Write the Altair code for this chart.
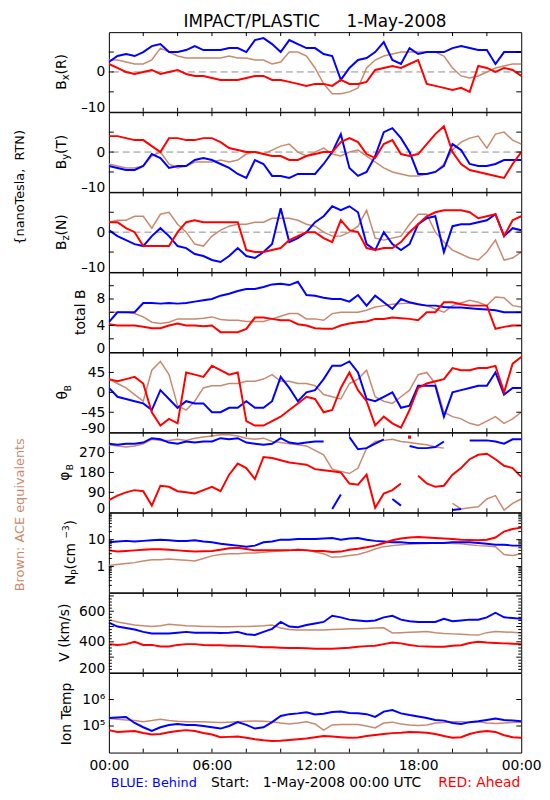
import altair as alt
import pandas as pd

# ---------------- data (30-minute samples) ----------------
HOURS = [i * 0.5 for i in range(49)]
X_TICKS = [2, 4, 6, 8, 10, 12, 14, 16, 18, 20, 22]
X_LABELS = [0, 6, 12, 18, 24]

BX_BLUE = [2.5, 4, 4.5, 4, 5, 6.5, 7, 5, 5, 5.5,
           6.5, 5.5, 5.5, 5.5, 6, 6, 5, 8, 8.5, 7,
           5, 8, 7, 6, 6, 4.5, 4, -2, 1, 3,
           3.5, 5, 7.5, 3, 2, 6, 4.5, 5, 5, 5,
           6, 6.5, 6, 5.5, 5.5, 2, 5, 5, 5]
BX_RED = [2, 1, 0, -0.5, 0, 0.5, -0.5, 0, 0.5, -0.5,
          -1, -1, -1.5, -2, -2, -2, -1.5, -1, -1, -2,
          -2, -2.5, -3, -3.5, -3, -3, -3.5, -2, -3, -3,
          -2.5, 0.5, 1, 1.5, 1, 2, 3, -3, -3.5, -4,
          -4.5, -4, -5, 1.5, 1, 0, 1, 0.5, -1]
BX_BROWN = [3, 3, 2.5, 2, 2, 3, 6, 5, 4, 3.5,
            3.5, 3.5, 3.5, 3.5, 4, 3.5, 3.5, 3, 3, 2,
            2.5, 5, 5, 4, 1, -3, -5.5, -5.5, -5, -4,
            1, 3, 4, 4.5, 5, 5, 5, 5, 5, 4,
            1, -1, -1.5, -1, 0, 1, 1.5, 2, 2]

BY_BLUE = [-3.5, -4, -4.5, -4.5, -3.5, -0.5, -1.5, -4, -3.5, -3.5,
           -2, -1.5, -2, -3, -4, -5.5, -6.5, -2, -3, -6,
           -6, -6.5, -5.5, -5.5, -5.5, -3, 0, 4.5, -4, -6,
           -5, -1, 5, 6, 3.5, 0, -5.5, -5.5, -5, -3.5,
           2, 0.5, -3, -3.5, -3.5, -3, -2, -2, -2]
BY_RED = [4, 4, 3.5, 3, 3, 1.5, 0, 3.5, 3.5, 3,
          3, 3.5, 3.5, 2.5, 1, 0.5, 0, 0, -0.5, -1,
          -1, -2, -2, -1, -0.5, 0, 0, 2.5, 3.5, 2.5,
          -0.5, -1.5, 2, 3, -0.5, -1, -0.5, 2, 4.5, 6.5,
          0, -3, -4.5, -5, -5.5, -6, -6.5, -3, 0]
BY_BROWN = [-3, -3.5, -4, -4, -3.5, -1, 0, -3, -4, -3.5,
            -2.5, -2.5, -2.5, -2, -2.5, -2, -0.5, 0, -0.5, 0.5,
            1.5, 2, 0, -1, 0, 1, -0.5, -1, 0, 0.5,
            -1, -2.5, -4, -5, -5.5, -6, -6, -5.5, -5, -3,
            0.5, 2.5, 3.5, 4, 1, 4.5, 5, 3, 2]

BZ_BLUE = [0.5, -1, -2, -3, -3.5, -1, 1, -1, -3.5, -4,
           -5.5, -6, -7, -7.5, -6, -4, -6, -6.5, -5, -3,
           6, -2.5, -1.5, 0, 2.5, 4, 6.5, 5.5, 6.5, 5,
           -3, -4.5, 0, -3, -4.5, -3, 2, 3.5, 4, -5,
           1.5, 2, 2, 2.5, 3, 4.5, -1, 1, 0.5]
BZ_RED = [2.5, 2.5, 1, 0, -3.5, -3.5, -3.5, -3.5, 0, 2.5,
          3, 2.5, 2.5, 2.5, 2.5, 2.5, -4.5, -5, -5, -4.5,
          -4, -2, -1, 0, 0, -1.5, -2.5, 3, 0.5, 0,
          -4, -4.5, -4, -4, -2.5, 0, 2, 4, 5, 5.5,
          5.5, 5.5, 5, 3.5, 4, 4.5, -1, 3, 4]
BZ_BROWN = [2.5, 3, 3, 4, 4, 1, 4.5, 5, 2, 0,
            -3, -3.5, -1, 0.5, 1.5, 2, 2, 2.5, 2.5, 3.5,
            3.5, 3.5, 3, 2, 1.5, 0, -1, -1, 0, 1.5,
            5.5, -1.5, -2, -1.5, -1, 2, 4.5, 4.5, 0, -2.5,
            -4.5, -5.5, -6.5, -7, -5, -2, -7, -6.5, -5]

B_BLUE = [4.5, 6, 6, 6, 7.4, 7.4, 7.3, 7.4, 7.3, 7.4,
          7.6, 7.8, 8, 8.5, 8.8, 9.2, 9.5, 9.5, 9.8, 10.2,
          10.3, 10.1, 10.6, 8.6, 8.5, 8.2, 8, 8, 7.6, 8.6,
          7, 8.5, 7.5, 6.5, 8, 7.5, 7.2, 7, 7, 6.8,
          6.7, 6.7, 6.6, 6.5, 6.4, 6.3, 6, 6, 6]
B_RED = [4.2, 4, 4, 4, 3.8, 3.6, 3.6, 4, 4.3, 4,
         4, 3.9, 4, 3, 3, 3, 3.5, 5.2, 5.2, 5,
         4.8, 4.8, 4.2, 4, 3.6, 3.5, 3.5, 4, 4.3, 4.5,
         4.6, 5, 5, 5.2, 5.1, 5, 4.8, 6, 6, 7.5,
         7.5, 7.2, 7, 7, 7, 3.5, 3.8, 4, 4]
B_BROWN = [6, 6, 6, 5.8, 5.3, 4.5, 4.3, 4.5, 5, 5,
           5, 5.1, 5.3, 4.9, 4.8, 4.8, 4.6, 4.6, 4.6, 5,
           5.4, 5.8, 5.8, 5, 5, 4.8, 5.8, 6, 6, 6,
           6.3, 6.8, 7, 7.2, 7.3, 7.4, 7.2, 7, 6.5, 6,
           7, 7.4, 7.8, 7.5, 7, 8.3, 8.2, 7, 6.8]

TH_BLUE = [10, -10, -15, -20, -25, -40, 5, -15, -35, -20,
           -25, -25, -45, -45, -35, -35, -20, -35, -35, -20,
           35, 10, -20, 0, 5, 30, 60, 60, 70, 45,
           -15, -20, -10, 0, -35, -30, 15, 15, 15, -55,
           0, 5, 10, 15, 15, 45, -5, 10, 10]
TH_RED = [30, 25, 30, 35, 20, -45, -75, -60, -70, 45,
          40, 35, 60, 50, 40, 45, -65, -75, -75, -65,
          -55, -40, -25, -10, -15, -45, -40, 10, 45, 5,
          -20, -75, -55, -70, -80, -40, 10, 20, 25, 30,
          55, 50, 50, 55, 55, 60, 0, 65, 80]
TH_BROWN = [30, 20, 10, -5, -20, 50, 70, 40, -30, -40,
            -20, 10, 15, 15, 20, 20, 25, 25, 30, 40,
            25, 25, 20, 20, 15, -5, -10, -15, 20, 30,
            50, -10, -20, -25, -10, 5, 40, 45, 20, -45,
            -55, -60, -70, -75, -65, -55, -70, -60, -45]

PH_BLUE = [310, 305, 310, 310, 315, 335, 330, 315, 310, 320,
           315, 320, 320, 335, 330, 335, 315, 310, 305, 310,
           335, 315, 310, 315, 320, 320, 15, 80, 340, 285,
           290, 310, 330, 60, 30, 300, 290, 290, 295, 320,
           10, 15, 325, 325, 325, 320, 310, 330, 330]
PH_RED = [55, 75, 90, 100, 95, 30, 120, 115, 95, 90,
          85, 100, 115, 95, 170, 220, 200, 150, 250, 245,
          235, 225, 220, 215, 195, 190, 185, 180, 130, 125,
          170, 20, 85, 100, 130, 340, 165, 130, 115, 120,
          170, 200, 240, 260, 265, 240, 210, 200, 160]
PH_BROWN = [305, 300, 295, 300, 310, 330, 325, 325, 330, 325,
            335, 340, 345, 350, 350, 345, 335, 330, 335, 320,
            315, 310, 305, 300, 280, 260, 195, 185, 175, 200,
            290, 320, 325, 330, 320, 315, 310, 305, 295, 290,
            40, 15, 20, 25, 60, 75, 10, 40, 60]
# indices where the azimuth wraps round (0 <-> 360) or jumps away: the trace is broken there
PH_BLUE_BREAKS = [26, 28, 33, 35, 40, 42]
PH_RED_BREAKS = [35, 36]
PH_BROWN_BREAKS = [40]

NP_BLUE = [8, 8.5, 9, 8.5, 9, 9.5, 10, 9.5, 9, 9,
           9.5, 8.5, 8, 7, 6.5, 6, 5.5, 6, 8, 8.5,
           10, 10, 10.5, 10.5, 10.5, 11, 11.5, 10, 11, 11.5,
           10, 9, 8.5, 8, 8, 7.5, 7.5, 7.5, 7.5, 7.5,
           8, 8, 8, 7.5, 7, 6.5, 6.5, 6, 6]
NP_RED = [4, 3.6, 3.8, 4, 4.2, 4.4, 4.4, 4.2, 4, 3.8,
          3.6, 3.7, 3.8, 4.2, 4.8, 5, 4.5, 4, 4, 4,
          4, 4, 4.2, 4, 3.8, 3.8, 3.5, 3.6, 4.2, 4.6,
          5.2, 6, 7.5, 9.5, 11, 12, 12.5, 12, 11.5, 11,
          10.5, 10, 9.8, 9.5, 10, 12, 20, 25, 28]
NP_BROWN = [1.1, 1.2, 1.3, 1.4, 1.6, 1.8, 1.8, 1.9, 1.8, 1.7,
            1.6, 2, 2.5, 2.8, 3, 3, 3.2, 3.2, 3.4, 3.6,
            3.8, 4, 4.3, 4.2, 3.5, 3, 2.2, 2.3, 2.6, 2.8,
            3.5, 4.5, 5.5, 6, 6.5, 6.8, 7, 7.2, 7.5, 7.5,
            7.2, 7, 6.5, 6, 5.8, 5.5, 2.8, 2.6, 3]

V_BLUE = [525, 500, 490, 480, 465, 455, 455, 455, 460, 465,
          460, 460, 460, 458, 460, 465, 450, 445, 465, 485,
          530, 500, 495, 510, 520, 530, 570, 560, 545, 540,
          535, 540, 560, 570, 545, 535, 530, 530, 530, 550,
          535, 540, 545, 545, 560, 590, 560, 555, 550]
V_RED = [385, 380, 385, 400, 380, 380, 370, 370, 380, 385,
         385, 380, 378, 378, 375, 375, 372, 370, 365, 365,
         362, 360, 360, 358, 355, 355, 355, 358, 362, 368,
         372, 375, 385, 395, 390, 380, 372, 370, 368, 368,
         375, 378, 392, 400, 395, 392, 390, 388, 385]
V_BROWN = [545, 530, 520, 510, 505, 500, 505, 515, 510, 505,
           503, 500, 500, 498, 498, 500, 500, 502, 505, 510,
           490, 480, 478, 478, 478, 478, 480, 482, 485, 485,
           487, 490, 492, 458, 460, 462, 465, 468, 460, 455,
           452, 450, 446, 444, 460, 468, 465, 462, 458]

T_BLUE = [2.0e5, 2.1e5, 2.2e5, 1.3e5, 0.9e5, 0.65e5, 0.9e5, 1.1e5, 1.2e5, 1.1e5,
          1.1e5, 1.0e5, 0.9e5, 0.8e5, 1.0e5, 1.4e5, 1.1e5, 0.8e5, 0.9e5, 1.4e5,
          2.4e5, 2.8e5, 3.0e5, 3.3e5, 2.7e5, 2.9e5, 3.4e5, 3.5e5, 3.1e5, 3.0e5,
          2.8e5, 2.2e5, 3.5e5, 4.0e5, 3.0e5, 2.6e5, 2.3e5, 2.0e5, 1.7e5, 1.6e5,
          1.3e5, 1.2e5, 1.4e5, 1.5e5, 1.7e5, 1.9e5, 1.7e5, 1.6e5, 1.5e5]
T_RED = [7.0e4, 6.0e4, 6.2e4, 6.5e4, 5.5e4, 4.8e4, 5.0e4, 5.8e4, 6.5e4, 7.0e4,
         6.5e4, 5.5e4, 4.8e4, 3.8e4, 3.9e4, 4.0e4, 3.6e4, 3.2e4, 2.9e4, 2.7e4,
         2.8e4, 3.0e4, 3.2e4, 3.4e4, 3.8e4, 4.2e4, 4.0e4, 3.8e4, 3.6e4, 3.7e4,
         4.2e4, 4.6e4, 5.0e4, 5.4e4, 5.6e4, 6.0e4, 5.8e4, 5.6e4, 5.0e4, 4.2e4,
         3.6e4, 3.8e4, 5.0e4, 6.0e4, 6.5e4, 6.0e4, 4.5e4, 3.8e4, 3.6e4]
T_BROWN = [1.9e5, 1.8e5, 1.7e5, 1.6e5, 1.45e5, 1.6e5, 1.8e5, 1.6e5, 1.5e5, 1.45e5,
           1.45e5, 1.45e5, 1.4e5, 1.35e5, 1.4e5, 1.45e5, 1.5e5, 1.55e5, 1.5e5, 1.45e5,
           1.3e5, 1.2e5, 1.3e5, 1.45e5, 1.2e5, 0.7e5, 1.1e5, 1.15e5, 1.15e5, 1.15e5,
           1.0e5, 0.85e5, 1.3e5, 1.4e5, 1.2e5, 1.1e5, 1.05e5, 1.1e5, 1.3e5, 1.35e5,
           1.45e5, 1.45e5, 1.4e5, 1.45e5, 1.3e5, 1.25e5, 1.3e5, 1.35e5, 1.4e5]

# ---------------- styling ----------------
FONT = "DejaVu Sans"
BLUE = "#0000ff"
RED = "#ff0000"
BROWN = "#c88a6e"
L = 110          # page x of the plot's left edge (used for left-side text offsets)
W = 417
H = 80.5

EM = {" ": 0.318, "\u00a0": 0.318, "(": 0.390, ")": 0.390, "/": 0.337, "-": 0.361,
      "\u2212": 0.838, "3": 0.636, "B": 0.686, "I": 0.295, "N": 0.748, "P": 0.603,
      "R": 0.695, "T": 0.611, "V": 0.684, "a": 0.613, "c": 0.550, "e": 0.615,
      "k": 0.579, "l": 0.278, "m": 0.974, "n": 0.634, "o": 0.612, "p": 0.635,
      "s": 0.521, "t": 0.392, "x": 0.592, "y": 0.592, "z": 0.525,
      "\u03b8": 0.602, "\u03c6": 0.744}


def tw(s, size):
    return sum(EM.get(c, 0.6) for c in s) * size


ONE = pd.DataFrame({"k": [0]})


def label(text, x, y, size=14, color="black", angle=0, align="left", baseline="alphabetic"):
    return alt.Chart(ONE).mark_text(
        text=text, font=FONT, fontSize=size, color=color, angle=angle,
        align=align, baseline=baseline
    ).encode(x=alt.value(x), y=alt.value(y))


def ytitle(pieces, base_page_x):
    total = sum(tw(t, s) for t, s, d in pieces)
    y0 = H / 2 + total / 2
    out = []
    along = 0.0
    for t, s, d in pieces:
        out.append(label(t, base_page_x - L + d, y0 - along, size=s, angle=270))
        along += tw(t, s)
    return out


def series_frame(vals, breaks):
    seg, g = [], 0
    for i in range(len(vals)):
        if i in breaks:
            g += 1
        seg.append(g)
    df = pd.DataFrame({"h": HOURS, "v": vals, "g": seg})
    sizes = df.groupby("g")["g"].transform("size")
    return df, df[sizes == 1]


def panel(series, scale, ymin, yvals, yexpr, major, minor=(), zero=False, title=(), title_x=67,
          bottom=False, extras=()):
    xscale = alt.Scale(domain=[0, 24], nice=False, zero=False)
    if bottom:
        xaxis = alt.Axis(values=X_LABELS,
                         labelExpr="(datum.value % 24 < 10 ? '0' : '') + (datum.value % 24) + ':00'",
                         ticks=False, tickSize=0, domain=False, grid=False, title=None,
                         labelPadding=6, labelFlush=False, labelOverlap=False,
                         labelFontSize=14, labelFont=FONT)
    else:
        xaxis = None
    xenc = alt.X("h:Q", scale=xscale, axis=xaxis)
    # the label sitting on the panel's lower edge is raised so that it rests on the edge
    base = {"condition": {"test": f"datum.value == {ymin}", "value": "alphabetic"},
            "value": "middle"}
    yaxis = alt.Axis(values=yvals, labelExpr=yexpr, ticks=False, tickSize=0, domain=False,
                     grid=False, title=None, labelPadding=4, labelFlush=False,
                     labelBaseline=base, labelOverlap=False, labelFontSize=14, labelFont=FONT)
    yenc = alt.Y("v:Q", scale=scale, axis=yaxis)
    layers = []
    if zero:
        layers.append(alt.Chart(pd.DataFrame({"v": [0]})).mark_rule(
            color="#8c8c8c", strokeDash=[7, 4], strokeWidth=1).encode(y=yenc))
    for vals, color, sw, breaks in series:
        df, lone = series_frame(vals, breaks)
        layers.append(alt.Chart(df).mark_line(color=color, strokeWidth=sw, clip=True)
                      .encode(x=xenc, y=yenc, detail="g:N"))
        if len(lone):
            layers.append(alt.Chart(lone).mark_square(color=color, size=10, opacity=1, clip=True)
                          .encode(x=xenc, y=yenc))
    for vals, ln in ((major, 5), (minor, 3)):
        if len(vals):
            t = pd.DataFrame({"v": list(vals)})
            layers.append(alt.Chart(t).mark_rule(color="black").encode(
                y=yenc, x=alt.value(0), x2=alt.value(ln)))
            layers.append(alt.Chart(t).mark_rule(color="black").encode(
                y=yenc, x=alt.value(W - ln), x2=alt.value(W)))
    xt = pd.DataFrame({"h": X_TICKS})
    layers.append(alt.Chart(xt).mark_rule(color="black").encode(
        x=xenc, y=alt.value(0), y2=alt.value(4)))
    layers.append(alt.Chart(xt).mark_rule(color="black").encode(
        x=xenc, y=alt.value(H - 4), y2=alt.value(H)))
    layers += ytitle(title, title_x)
    layers += list(extras)
    return alt.layer(*layers).properties(width=W, height=H)


def trio(blue, red, brown, bb=(), rb=(), nb=()):
    return [(brown, BROWN, 1.5, list(nb)), (blue, BLUE, 2, list(bb)), (red, RED, 2, list(rb))]


NEG_EXPR = "datum.value < 0 ? '\u2013' + abs(datum.value) : '' + datum.value"
BSCALE = alt.Scale(domain=[-10, 10], nice=False, zero=False)

p_bx = panel(trio(BX_BLUE, BX_RED, BX_BROWN), BSCALE, -10, [-10, 0], NEG_EXPR, [-5, 0, 5], zero=True,
             title=[("B", 14, 0), ("x", 10, 3), ("(R)", 14, 0)], title_x=67,
             extras=[label("IMPACT/PLASTIC\u00a0\u00a0\u00a0\u00a0\u00a01-May-2008", W / 2, -5,
                           size=17, align="center")])
p_by = panel(trio(BY_BLUE, BY_RED, BY_BROWN), BSCALE, -10, [-10, 0], NEG_EXPR, [-5, 0, 5], zero=True,
             title=[("B", 14, 0), ("y", 10, 3), ("(T)", 14, 0)], title_x=67,
             extras=[label("{nanoTesla,\u00a0\u00a0RTN)", 20 - L, 76, size=13, angle=270,
                           align="center", baseline="middle")])
p_bz = panel(trio(BZ_BLUE, BZ_RED, BZ_BROWN), BSCALE, -10, [-10, 0], NEG_EXPR, [-5, 0, 5], zero=True,
             title=[("B", 14, 0), ("z", 10, 3), ("(N)", 14, 0)], title_x=67)
p_bt = panel(trio(B_BLUE, B_RED, B_BROWN), alt.Scale(domain=[0, 12], nice=False, zero=False),
             0, [0, 4, 8], "datum.label", [2, 4, 6, 8, 10],
             title=[("total B", 14, 0)], title_x=86)
p_th = panel(trio(TH_BLUE, TH_RED, TH_BROWN), alt.Scale(domain=[-90, 90], nice=False, zero=False),
             -90, [-90, -45, 0, 45], NEG_EXPR, [-45, 0, 45],
             title=[("\u03b8", 14, 0), ("B", 9, 4)], title_x=68)
p_ph = panel(trio(PH_BLUE, PH_RED, PH_BROWN, PH_BLUE_BREAKS, PH_RED_BREAKS, PH_BROWN_BREAKS),
             alt.Scale(domain=[0, 360], nice=False, zero=False),
             0, [0, 90, 180, 270], "datum.label", [90, 180, 270],
             title=[("\u03c6", 14, 0), ("B", 9, 4)], title_x=70)
NP_MINOR = [0.2, 0.3, 0.4, 0.5, 0.6, 0.7, 0.8, 0.9, 2, 3, 4, 5, 6, 7, 8, 9,
            20, 30, 40, 50, 60, 70, 80, 90]
p_np = panel(trio(NP_BLUE, NP_RED, NP_BROWN),
             alt.Scale(type="log", domain=[0.11, 100], nice=False),
             0.11, [1, 10], "datum.value < 5 ? '1' : '10'", [1, 10], minor=NP_MINOR,
             title=[("N", 14, 0), ("P", 9, 3), ("\u00a0(cm", 14, 0), ("\u22123", 9, -6), (")", 14, 0)],
             title_x=76,
             extras=[label("Brown:\u00a0ACE\u00a0equivalents", 20 - L, 2, size=13, angle=270,
                           align="center", baseline="middle", color=BROWN)])
V_MINOR = [v for v in range(220, 720, 20) if v % 100 != 0]
p_v = panel(trio(V_BLUE, V_RED, V_BROWN), alt.Scale(domain=[200, 720], nice=False, zero=False),
            200, [200, 400, 600], "datum.label", [300, 400, 500, 600, 700], minor=V_MINOR,
            title=[("V\u00a0(km/s)", 14, 0)], title_x=70)
p_t = panel(trio(T_BLUE, T_RED, T_BROWN), alt.Scale(type="log", domain=[1e4, 1e7], nice=False),
            10000, [1e5, 1e6], "datum.value < 5e5 ? '10\u2075' : '10\u2076'", [1e5, 1e6],
            title=[("Ion\u00a0Temp", 14, 0)], title_x=72, bottom=True,
            extras=[label("BLUE:\u00a0Behind", 2, H + 35, size=13, color=BLUE),
                    label("Start:\u00a0\u00a0\u00a01-May-2008\u00a000:00\u00a0UTC", W / 2 + 1, H + 35,
                          size=14, align="center"),
                    label("RED:\u00a0Ahead", W - 1, H + 35, size=14, color=RED, align="right")])

chart = alt.vconcat(p_bx, p_by, p_bz, p_bt, p_th, p_ph, p_np, p_v, p_t,
                    spacing=0, bounds="flush").properties(
    padding={"left": 5, "top": 0, "right": 0, "bottom": 0},
    background="white",
).configure_view(stroke="black", strokeWidth=1).configure_axis(
    labelFont=FONT, labelFontSize=14, labelColor="black")

chart.save("out.html", embed_options={"renderer": "svg", "actions": False})
